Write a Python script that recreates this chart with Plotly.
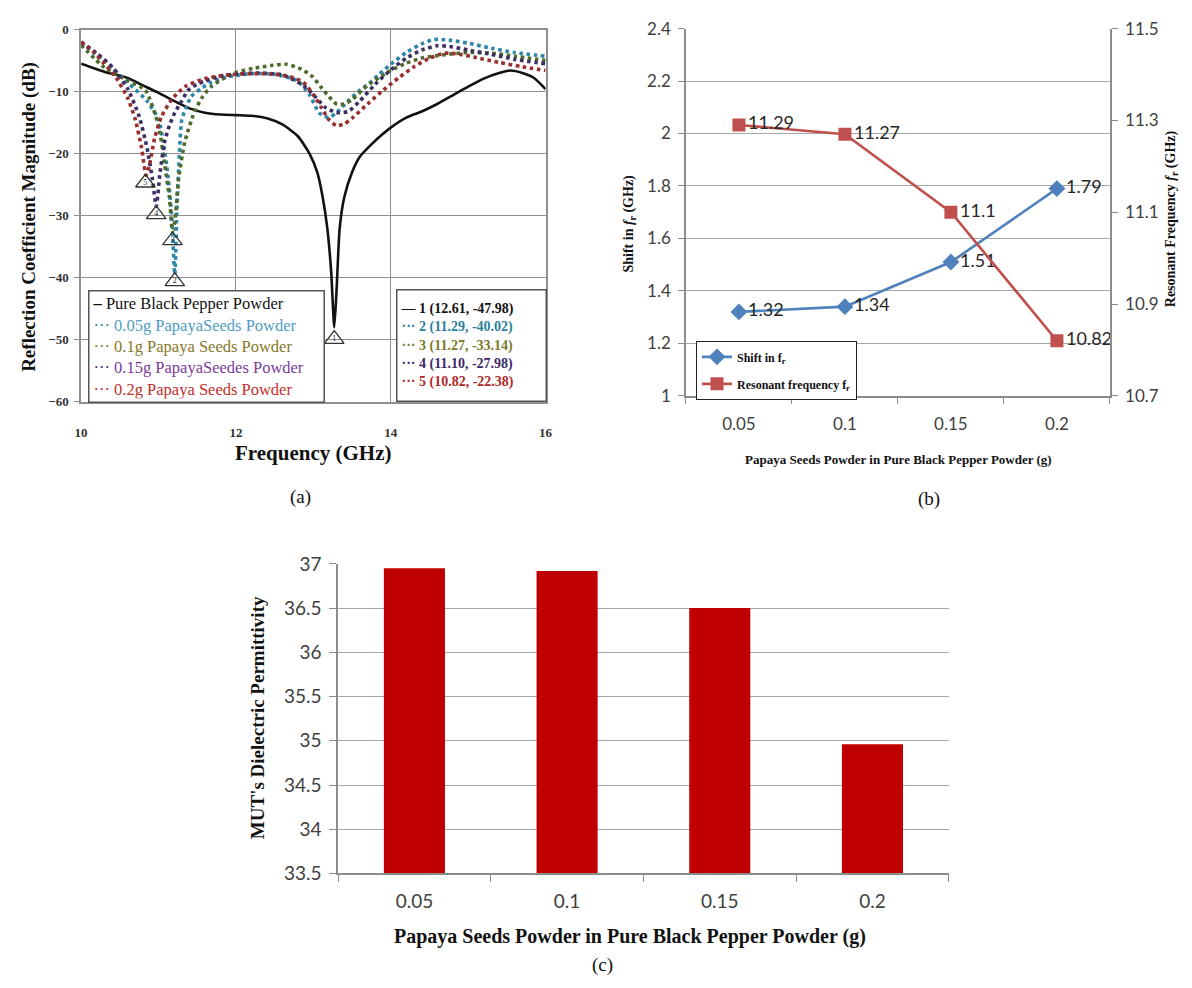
import plotly.graph_objects as go

W, H = 1192, 988
SERIF = "Liberation Serif, Times New Roman, serif"
SANS = "Lato, Calibri, Arial, sans-serif"

# ---------------- Panel (a) data: reflection coefficient vs frequency ----------------
pure_x = [10.0, 10.3, 10.6, 10.8, 11.0, 11.2, 11.4, 11.6, 11.8, 12.0, 12.2, 12.4, 12.6, 12.8,
          12.95, 13.05, 13.12, 13.18, 13.23, 13.27, 13.30, 13.34, 13.40, 13.5, 13.6, 13.75,
          13.9, 14.0, 14.2, 14.4, 14.6, 14.8, 15.0, 15.2, 15.4, 15.55, 15.7, 15.85, 16.0]
pure_y = [-5.5, -6.8, -7.8, -9.0, -10.2, -11.5, -12.7, -13.4, -13.7, -13.8, -13.9, -14.3, -15.3,
          -17.2, -20.0, -23.0, -27.0, -32.0, -39.0, -48.0, -42.0, -32.0, -27.0, -23.0, -20.5,
          -18.5, -16.8, -15.8, -14.2, -13.2, -12.0, -10.6, -9.2, -7.9, -7.0, -6.6, -7.0, -7.8, -9.6]

g005_x = [10.0, 10.3, 10.6, 10.85, 11.0, 11.06, 11.12, 11.17, 11.21, 11.24, 11.27, 11.3, 11.36,
          11.42, 11.55, 11.68, 11.9, 12.2, 12.5, 12.8, 12.95, 13.08, 13.2, 13.3, 13.45, 13.6,
          13.72, 13.85, 14.0, 14.2, 14.4, 14.56, 14.75, 15.0, 15.3, 15.6, 16.0]
g005_y = [-2.2, -5.0, -8.5, -11.5, -14.5, -18.0, -23.4, -30.0, -39.5, -28.0, -20.0, -14.5, -12.5,
          -10.8, -9.5, -8.5, -7.6, -7.1, -7.2, -8.3, -10.5, -13.5, -14.2, -13.4, -11.5, -9.8,
          -8.7, -7.2, -5.6, -3.7, -2.3, -1.6, -1.7, -2.2, -3.0, -3.7, -4.3]

g010_x = [10.0, 10.3, 10.6, 10.83, 11.0, 11.08, 11.14, 11.18, 11.21, 11.26, 11.34, 11.46, 11.56,
          11.68, 11.85, 12.0, 12.25, 12.45, 12.65, 12.85, 12.99, 13.1, 13.2, 13.3, 13.4, 13.5,
          13.7, 14.0, 14.2, 14.4, 14.6, 14.8, 15.0, 15.3, 15.6, 16.0]
g010_y = [-2.5, -6.1, -8.2, -9.8, -15.5, -21.9, -27.0, -32.5, -31.0, -24.0, -18.1, -13.4, -11.0,
          -9.2, -7.8, -6.9, -6.2, -5.8, -5.6, -6.4, -7.6, -9.3, -10.8, -12.0, -12.0, -11.3,
          -9.0, -6.6, -5.4, -4.6, -4.2, -3.9, -3.7, -3.8, -4.3, -5.0]

g015_x = [10.0, 10.2, 10.4, 10.6, 10.75, 10.85, 10.92, 10.97, 11.02, 11.08, 11.14, 11.21, 11.3,
          11.38, 11.5, 11.6, 11.8, 12.0, 12.3, 12.6, 12.87, 13.0, 13.15, 13.3, 13.45, 13.6,
          13.8, 14.0, 14.2, 14.4, 14.6, 14.8, 15.0, 15.3, 15.6, 16.0]
g015_y = [-2.0, -3.8, -6.0, -9.5, -14.0, -19.0, -24.0, -28.5, -23.0, -18.0, -15.5, -13.4, -11.5,
          -9.8, -8.8, -8.3, -7.5, -7.2, -7.0, -7.3, -9.0, -10.5, -12.5, -13.4, -13.2, -11.5,
          -8.8, -6.5, -4.6, -3.3, -2.6, -2.8, -3.3, -4.0, -4.8, -5.5]

g020_x = [10.0, 10.15, 10.3, 10.45, 10.6, 10.7, 10.78, 10.84, 10.88, 10.95, 11.04, 11.17, 11.34,
          11.6, 11.9, 12.2, 12.5, 12.7, 12.87, 13.0, 13.1, 13.2, 13.3, 13.4, 13.5, 13.7, 13.9,
          14.1, 14.3, 14.5, 14.7, 14.9, 15.1, 15.4, 15.7, 16.0]
g020_y = [-2.0, -3.5, -5.5, -7.7, -11.0, -14.5, -19.0, -23.5, -22.0, -17.5, -14.0, -11.3, -9.2,
          -7.9, -7.3, -7.1, -7.2, -7.6, -8.5, -10.5, -12.5, -14.5, -15.5, -15.2, -14.3, -12.0,
          -9.8, -7.8, -6.0, -4.6, -3.8, -4.0, -4.5, -5.3, -6.0, -6.6]

# numbered resonance markers (as drawn) and the values listed in the marker box
marker_ids = ["1", "2", "3", "4", "5"]
marker_x = [13.27, 11.21, 11.18, 10.97, 10.83]
marker_y = [-49.9, -40.6, -34.0, -29.8, -24.7]
res_freq = [12.61, 11.29, 11.27, 11.10, 10.82]
res_mag = [-47.98, -40.02, -33.14, -27.98, -22.38]

series_names = ["Pure Black Pepper Powder", "0.05g PapayaSeeds Powder", "0.1g Papaya Seeds Powder",
                "0.15g PapayaSeedes Powder", "0.2g Papaya Seeds Powder"]
line_colors = ["#111111", "#2B86A8", "#4F6B2A", "#3D2F63", "#9A2D2D"]
text_colors = ["#111111", "#4E9CC4", "#86782A", "#7A3B9C", "#C0302B"]
box_colors = ["#111111", "#2A7F9E", "#7D7A2A", "#3B2A6B", "#B0282A"]

# ---------------- Panel (b) data ----------------
papaya = ["0.05", "0.1", "0.15", "0.2"]
shift_fr = [1.32, 1.34, 1.51, 1.79]
resonant_fr = [11.29, 11.27, 11.1, 10.82]
b_left_ticks = [1, 1.2, 1.4, 1.6, 1.8, 2, 2.2, 2.4]
b_right_ticks = [10.7, 10.9, 11.1, 11.3, 11.5]

# ---------------- Panel (c) data ----------------
permittivity = [36.95, 36.92, 36.5, 34.96]
c_ticks = [33.5, 34, 34.5, 35, 35.5, 36, 36.5, 37]


def px(x):
    return x / W


def py(y):
    return 1 - y / H


fig = go.Figure()

# Panel (a) traces
curves = [(pure_x, pure_y), (g005_x, g005_y), (g010_x, g010_y), (g015_x, g015_y), (g020_x, g020_y)]
for i, (xs, ys) in enumerate(curves):
    fig.add_trace(go.Scatter(
        x=xs, y=ys, mode="lines", name=series_names[i], showlegend=False,
        line=dict(color=line_colors[i], width=2.6 if i == 0 else 3.6,
                  dash="solid" if i == 0 else "dot", shape="spline", smoothing=0.6),
        xaxis="x", yaxis="y"))

fig.add_trace(go.Scatter(
    x=marker_x, y=marker_y, mode="markers+text", text=marker_ids, showlegend=False,
    textposition="middle center", textfont=dict(family=SERIF, size=8, color="#222"),
    marker=dict(symbol="triangle-up-open", size=17, color="#333", line=dict(width=1.3)),
    xaxis="x", yaxis="y"))

# Panel (b) traces
fig.add_trace(go.Scatter(
    x=papaya, y=shift_fr, mode="lines+markers+text", name="Shift in f<sub>r</sub>",
    text=[f"{v:g}" for v in shift_fr], textposition="middle right",
    textfont=dict(family=SANS, size=18, color="#262626"),
    line=dict(color="#4F81BD", width=2.6), marker=dict(symbol="diamond", size=13, color="#4F81BD"),
    xaxis="x2", yaxis="y2", legend="legend", legendgroup="g1"))
fig.add_trace(go.Scatter(
    x=papaya, y=resonant_fr, mode="lines+markers+text", name="Resonant frequency f<sub>r</sub>",
    text=[f"{v:g}" for v in resonant_fr], textposition="middle right",
    textfont=dict(family=SANS, size=18, color="#262626"),
    line=dict(color="#C0504D", width=2.6), marker=dict(symbol="square", size=13, color="#C0504D"),
    xaxis="x2", yaxis="y3", legend="legend", legendgroup="g2"))

# Panel (c) trace
fig.add_trace(go.Bar(x=papaya, y=permittivity, marker=dict(color="#C00000", line=dict(width=0)),
                     showlegend=False, xaxis="x4", yaxis="y4"))

grid_a = "#8F8F8F"
grid_bc = "#A6A6A6"
axis_bc = "#8C8C8C"

fig.update_layout(
    width=W, height=H, margin=dict(l=0, r=0, t=0, b=0),
    paper_bgcolor="white", plot_bgcolor="white",
    bargap=0.6,
    xaxis=dict(domain=[px(75), px(545)], range=[10, 16], tick0=10, dtick=2, anchor="y",
               showgrid=True, gridcolor=grid_a, gridwidth=1.3, zeroline=False,
               showline=True, mirror=True, linecolor=grid_a, linewidth=1.5, ticks="",
               ticklabelstandoff=18,
               tickfont=dict(family=SERIF, size=13, color="#333", weight="bold")),
    yaxis=dict(domain=[py(399), py(18)], range=[-60, 0], dtick=10, anchor="x",
               showgrid=True, gridcolor=grid_a, gridwidth=1.3, zeroline=False,
               showline=True, mirror=True, linecolor=grid_a, linewidth=1.5,
               ticks="outside", ticklen=5, tickcolor=grid_a, ticklabelstandoff=3,
               tickfont=dict(family=SERIF, size=13, color="#333", weight="bold")),
    xaxis2=dict(domain=[px(687), px(1116)], type="category", categoryorder="array",
                categoryarray=papaya, range=[-0.5, 3.5], anchor="y2",
                showgrid=False, showline=True, linecolor=axis_bc, linewidth=1.5,
                ticks="outside", tickson="boundaries", ticklen=6, tickcolor=axis_bc,
                ticklabelstandoff=12, tickfont=dict(family=SANS, size=17, color="#404040")),
    yaxis2=dict(domain=[py(393), py(17)], range=[1, 2.4], anchor="x2",
                tickvals=b_left_ticks, ticktext=[f"{v:g}" for v in b_left_ticks],
                showgrid=True, gridcolor=grid_bc, gridwidth=1.4, zeroline=False,
                showline=True, linecolor=axis_bc, linewidth=1.5,
                ticks="outside", ticklen=6, tickcolor=axis_bc, ticklabelstandoff=4,
                tickfont=dict(family=SANS, size=17, color="#404040")),
    yaxis3=dict(range=[10.7, 11.5], overlaying="y2", side="right", anchor="x2",
                tickvals=b_right_ticks, ticktext=[f"{v:g}" for v in b_right_ticks],
                showgrid=False, zeroline=False, showline=True, linecolor=axis_bc, linewidth=1.5,
                ticks="outside", ticklen=6, tickcolor=axis_bc, ticklabelstandoff=4,
                tickfont=dict(family=SANS, size=17, color="#404040")),
    xaxis4=dict(domain=[px(335), px(953)], type="category", categoryorder="array",
                categoryarray=papaya, range=[-0.5, 3.5], anchor="y4",
                showgrid=False, showline=True, linecolor=axis_bc, linewidth=1.5,
                ticks="outside", tickson="boundaries", ticklen=7, tickcolor=axis_bc,
                ticklabelstandoff=10, tickfont=dict(family=SANS, size=19, color="#404040")),
    yaxis4=dict(domain=[py(882), py(565)], range=[33.5, 37], anchor="x4",
                tickvals=c_ticks, ticktext=[f"{v:g}" for v in c_ticks],
                showgrid=True, gridcolor=grid_bc, gridwidth=1.4, zeroline=False,
                showline=True, linecolor=axis_bc, linewidth=1.5,
                ticks="outside", ticklen=7, tickcolor=axis_bc, ticklabelstandoff=4,
                tickfont=dict(family=SANS, size=19, color="#404040")),
    legend=dict(x=px(697), y=py(337), xanchor="left", yanchor="top",
                bgcolor="white", bordercolor="#222", borderwidth=1.2,
                font=dict(family=SERIF, size=12, color="#111", weight="bold"),
                tracegroupgap=8, itemwidth=30),
)

ann = []
# Panel (a) series legend (box with coloured entries)
leg1_lines = []
for i, name in enumerate(series_names):
    sample = "<b>–</b>" if i == 0 else "···"
    leg1_lines.append(f'<span style="color:{box_colors[i]}">{sample}</span> '
                      f'<span style="color:{text_colors[i]}">{name}</span>')
ann.append(dict(x=px(82), y=py(285), xref="paper", yref="paper", xanchor="left", yanchor="top",
                text="<br>".join(leg1_lines), showarrow=False, align="left", valign="middle",
                width=228, height=104, bgcolor="white", bordercolor="#555", borderwidth=1.5,
                borderpad=3, font=dict(family=SERIF, size=16.5, color="#111")))
# Panel (a) resonance-marker legend
leg2_lines = []
for i in range(5):
    sample = "<b>—</b>" if i == 0 else "···"
    leg2_lines.append(f'<span style="color:{box_colors[i]}">{sample} {marker_ids[i]} '
                      f'({res_freq[i]:.2f}, {res_mag[i]:.2f})</span>')
ann.append(dict(x=px(394), y=py(284), xref="paper", yref="paper", xanchor="left", yanchor="top",
                text="<br>".join(leg2_lines), showarrow=False, align="left", valign="middle",
                width=142, height=104, bgcolor="white", bordercolor="#555", borderwidth=1.5,
                borderpad=3, font=dict(family=SERIF, size=14, color="#111", weight="bold")))


def label(text, x, y, size, angle=0):
    return dict(x=px(x), y=py(y), xref="paper", yref="paper", xanchor="center",
                yanchor="middle", text=text, textangle=angle, showarrow=False,
                font=dict(family=SERIF, size=size, color="#111"))


# axis titles
ann.append(label("<b>Frequency (GHz)</b>", 310, 452, 21))
ann.append(label("<b>Reflection Coefficient Magnitude (dB)</b>", 22, 210, 19, -90))
ann.append(label("<b>Papaya Seeds Powder in Pure Black Pepper Powder (g)</b>", 902, 458, 13))
ann.append(label("<b>Shift in <i>f</i><sub>r</sub> (GHz)</b>", 630, 217, 14, -90))
ann.append(label("<b>Resonant Frequency <i>f</i><sub>r</sub> (GHz)</b>", 1178, 212, 14, -90))
ann.append(label("<b>MUT's Dielectric Permittivity</b>", 253, 723, 19, -90))
ann.append(label("<b>Papaya Seeds Powder in Pure Black Pepper Powder (g)</b>", 630, 947, 20))
# panel labels
for lab, xx, yy in [("(a)", 297, 497), ("(b)", 933, 499), ("(c)", 603, 976)]:
    ann.append(label(lab, xx, yy, 19))

fig.update_layout(annotations=ann)
fig.write_html("out.html", config={"displayModeBar": False},
               post_script="document.body.style.margin='0';document.body.style.overflow='hidden';"
                           "document.documentElement.style.overflow='hidden';")
